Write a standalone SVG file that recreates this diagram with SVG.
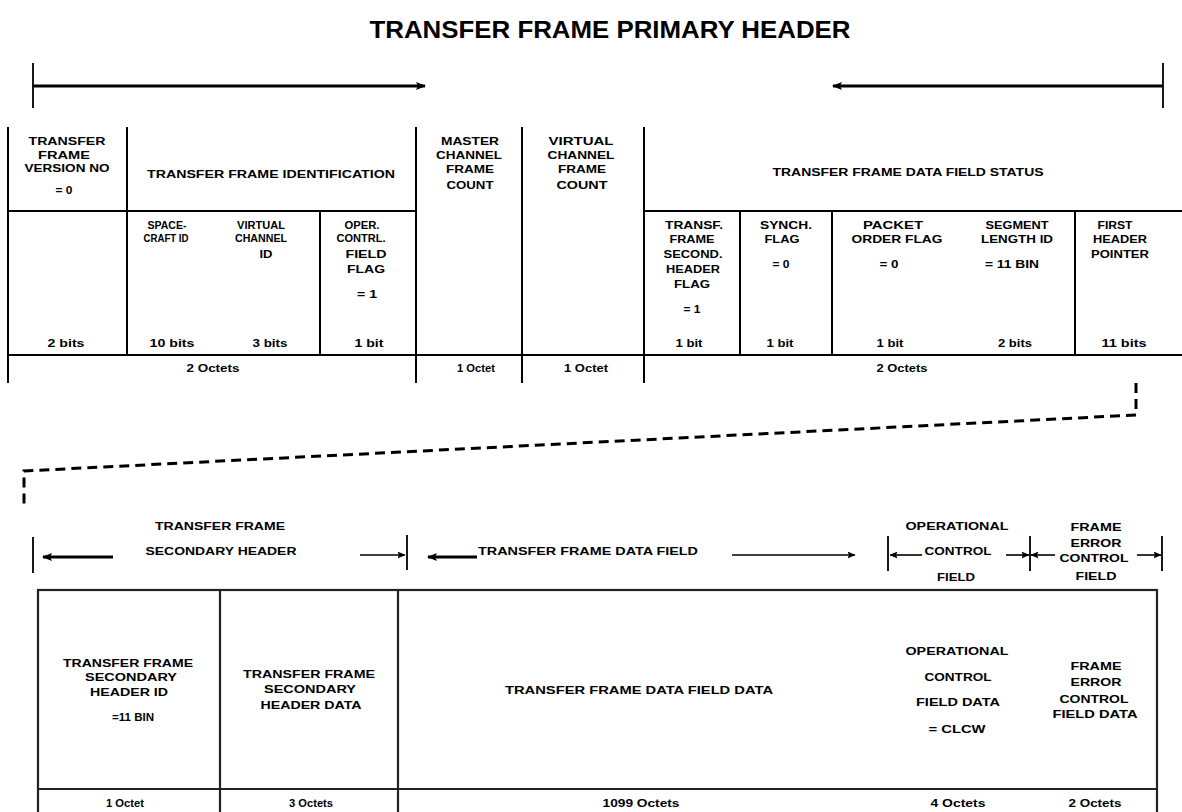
<svg xmlns="http://www.w3.org/2000/svg" width="1182" height="812" viewBox="0 0 1182 812">
  <style>
    .bg { fill: #ffffff; }
    .title { font-family: "Liberation Sans", Arial, sans-serif; font-weight: bold; font-size: 23px; fill: #000; text-anchor: middle; }
    .t { font-family: "Liberation Sans", Arial, sans-serif; font-weight: bold; font-size: 10.5px; fill: #000; text-anchor: middle; }
    .grid { stroke: #000; stroke-width: 2; fill: none; }
    .box { stroke: #222; stroke-width: 2.2; fill: none; }
    .span { stroke: #000; stroke-width: 3; fill: none; }
    .thin { stroke: #000; stroke-width: 1.6; fill: none; }
    .tick { stroke: #000; stroke-width: 1.8; fill: none; }
    .dash { stroke: #000; stroke-width: 3; fill: none; stroke-dasharray: 10 6; }
  </style>
  <defs>
    <marker id="head" markerWidth="10" markerHeight="8" refX="9" refY="4" orient="auto-start-reverse" markerUnits="userSpaceOnUse">
      <path d="M0,0 L10,4 L0,8 L2,4 Z" fill="#000"/>
    </marker>
    <marker id="headS" markerWidth="8" markerHeight="7" refX="7.5" refY="3.5" orient="auto-start-reverse" markerUnits="userSpaceOnUse">
      <path d="M0,0 L8,3.5 L0,7 L1.5,3.5 Z" fill="#000"/>
    </marker>
  </defs>

  <rect class="bg" x="0" y="0" width="1182" height="812"/>

  <text class="title" x="610" y="38" textLength="481" lengthAdjust="spacingAndGlyphs">TRANSFER FRAME PRIMARY HEADER</text>

  <!-- span arrows over the primary header -->
  <g id="primary-span">
    <line class="tick" x1="33" y1="63" x2="33" y2="108"/>
    <line class="span" x1="33" y1="86" x2="425" y2="86" marker-end="url(#head)"/>
    <line class="tick" x1="1163" y1="63" x2="1163" y2="108"/>
    <line class="span" x1="1163" y1="86" x2="833" y2="86" marker-end="url(#head)"/>
  </g>

  <!-- primary header grid -->
  <g id="primary-grid">
    <line class="grid" x1="8" y1="127" x2="8" y2="383"/>
    <line class="grid" x1="127" y1="127" x2="127" y2="355"/>
    <line class="grid" x1="320" y1="211" x2="320" y2="355"/>
    <line class="grid" x1="416" y1="127" x2="416" y2="383"/>
    <line class="grid" x1="522" y1="127" x2="522" y2="383"/>
    <line class="grid" x1="644" y1="127" x2="644" y2="383"/>
    <line class="grid" x1="740" y1="211" x2="740" y2="355"/>
    <line class="grid" x1="832" y1="211" x2="832" y2="355"/>
    <line class="grid" x1="1075" y1="211" x2="1075" y2="355"/>
    <line class="grid" x1="8" y1="211" x2="416" y2="211"/>
    <line class="grid" x1="644" y1="211" x2="1182" y2="211"/>
    <line class="grid" x1="8" y1="355" x2="1182" y2="355"/>
  </g>

  <g id="version-no">
    <text class="t" x="67" y="145" textLength="77" lengthAdjust="spacingAndGlyphs">TRANSFER</text>
    <text class="t" x="64" y="159" textLength="52" lengthAdjust="spacingAndGlyphs">FRAME</text>
    <text class="t" x="67" y="172" textLength="85" lengthAdjust="spacingAndGlyphs">VERSION NO</text>
    <text class="t" x="64" y="194" textLength="17" lengthAdjust="spacingAndGlyphs">= 0</text>
    <text class="t" x="66" y="347" textLength="37" lengthAdjust="spacingAndGlyphs">2 bits</text>
  </g>

  <g id="frame-identification">
    <text class="t" x="271" y="178" textLength="248" lengthAdjust="spacingAndGlyphs">TRANSFER FRAME IDENTIFICATION</text>
    <text class="t" x="213" y="372" textLength="53" lengthAdjust="spacingAndGlyphs">2 Octets</text>
  </g>

  <g id="spacecraft-id">
    <text class="t" x="167" y="229" textLength="39" lengthAdjust="spacingAndGlyphs">SPACE-</text>
    <text class="t" x="166" y="242" textLength="45" lengthAdjust="spacingAndGlyphs">CRAFT ID</text>
    <text class="t" x="172" y="347" textLength="45" lengthAdjust="spacingAndGlyphs">10 bits</text>
  </g>

  <g id="virtual-channel-id">
    <text class="t" x="261" y="229" textLength="48" lengthAdjust="spacingAndGlyphs">VIRTUAL</text>
    <text class="t" x="261" y="242" textLength="52" lengthAdjust="spacingAndGlyphs">CHANNEL</text>
    <text class="t" x="266" y="258" textLength="13" lengthAdjust="spacingAndGlyphs">ID</text>
    <text class="t" x="270" y="347" textLength="35" lengthAdjust="spacingAndGlyphs">3 bits</text>
  </g>

  <g id="ocf-flag">
    <text class="t" x="362" y="229" textLength="35" lengthAdjust="spacingAndGlyphs">OPER.</text>
    <text class="t" x="361" y="242" textLength="49" lengthAdjust="spacingAndGlyphs">CONTRL.</text>
    <text class="t" x="366" y="258" textLength="41" lengthAdjust="spacingAndGlyphs">FIELD</text>
    <text class="t" x="366" y="273" textLength="38" lengthAdjust="spacingAndGlyphs">FLAG</text>
    <text class="t" x="367" y="298" textLength="20" lengthAdjust="spacingAndGlyphs">= 1</text>
    <text class="t" x="369" y="347" textLength="29" lengthAdjust="spacingAndGlyphs">1 bit</text>
  </g>

  <g id="mc-frame-count">
    <text class="t" x="470" y="145" textLength="58" lengthAdjust="spacingAndGlyphs">MASTER</text>
    <text class="t" x="469" y="159" textLength="66" lengthAdjust="spacingAndGlyphs">CHANNEL</text>
    <text class="t" x="470" y="173" textLength="48" lengthAdjust="spacingAndGlyphs">FRAME</text>
    <text class="t" x="470" y="189" textLength="47" lengthAdjust="spacingAndGlyphs">COUNT</text>
    <text class="t" x="476" y="372" textLength="38" lengthAdjust="spacingAndGlyphs">1 Octet</text>
  </g>

  <g id="vc-frame-count">
    <text class="t" x="581" y="145" textLength="65" lengthAdjust="spacingAndGlyphs">VIRTUAL</text>
    <text class="t" x="581" y="159" textLength="67" lengthAdjust="spacingAndGlyphs">CHANNEL</text>
    <text class="t" x="582" y="173" textLength="48" lengthAdjust="spacingAndGlyphs">FRAME</text>
    <text class="t" x="582" y="189" textLength="51" lengthAdjust="spacingAndGlyphs">COUNT</text>
    <text class="t" x="586" y="372" textLength="44" lengthAdjust="spacingAndGlyphs">1 Octet</text>
  </g>

  <g id="data-field-status">
    <text class="t" x="908" y="176" textLength="271" lengthAdjust="spacingAndGlyphs">TRANSFER FRAME DATA FIELD STATUS</text>
    <text class="t" x="902" y="372" textLength="51" lengthAdjust="spacingAndGlyphs">2 Octets</text>
  </g>

  <g id="sec-header-flag">
    <text class="t" x="694" y="229" textLength="58" lengthAdjust="spacingAndGlyphs">TRANSF.</text>
    <text class="t" x="692" y="243" textLength="45" lengthAdjust="spacingAndGlyphs">FRAME</text>
    <text class="t" x="693" y="258" textLength="59" lengthAdjust="spacingAndGlyphs">SECOND.</text>
    <text class="t" x="693" y="273" textLength="54" lengthAdjust="spacingAndGlyphs">HEADER</text>
    <text class="t" x="692" y="288" textLength="36" lengthAdjust="spacingAndGlyphs">FLAG</text>
    <text class="t" x="692" y="313" textLength="17" lengthAdjust="spacingAndGlyphs">= 1</text>
    <text class="t" x="689" y="347" textLength="27" lengthAdjust="spacingAndGlyphs">1 bit</text>
  </g>

  <g id="synch-flag">
    <text class="t" x="786" y="229" textLength="52" lengthAdjust="spacingAndGlyphs">SYNCH.</text>
    <text class="t" x="782" y="243" textLength="35" lengthAdjust="spacingAndGlyphs">FLAG</text>
    <text class="t" x="781" y="268" textLength="17" lengthAdjust="spacingAndGlyphs">= 0</text>
    <text class="t" x="780" y="347" textLength="27" lengthAdjust="spacingAndGlyphs">1 bit</text>
  </g>

  <g id="packet-order-flag">
    <text class="t" x="893" y="229" textLength="60" lengthAdjust="spacingAndGlyphs">PACKET</text>
    <text class="t" x="897" y="243" textLength="91" lengthAdjust="spacingAndGlyphs">ORDER FLAG</text>
    <text class="t" x="889" y="268" textLength="19" lengthAdjust="spacingAndGlyphs">= 0</text>
    <text class="t" x="890" y="347" textLength="27" lengthAdjust="spacingAndGlyphs">1 bit</text>
  </g>

  <g id="segment-length-id">
    <text class="t" x="1017" y="229" textLength="63" lengthAdjust="spacingAndGlyphs">SEGMENT</text>
    <text class="t" x="1017" y="243" textLength="72" lengthAdjust="spacingAndGlyphs">LENGTH ID</text>
    <text class="t" x="1012" y="268" textLength="54" lengthAdjust="spacingAndGlyphs">= 11 BIN</text>
    <text class="t" x="1015" y="347" textLength="34" lengthAdjust="spacingAndGlyphs">2 bits</text>
  </g>

  <g id="first-header-pointer">
    <text class="t" x="1115" y="229" textLength="35" lengthAdjust="spacingAndGlyphs">FIRST</text>
    <text class="t" x="1120" y="243" textLength="54" lengthAdjust="spacingAndGlyphs">HEADER</text>
    <text class="t" x="1120" y="258" textLength="58" lengthAdjust="spacingAndGlyphs">POINTER</text>
    <text class="t" x="1124" y="347" textLength="45" lengthAdjust="spacingAndGlyphs">11 bits</text>
  </g>

  <!-- dashed lead-in from the first header pointer down to the frame layout -->
  <g id="connectors">
    <polyline class="dash" points="1136,383 1136,415 24,471 24,508"/>
  </g>

  <!-- span arrows over the frame layout -->
  <g id="secondary-header-span">
    <text class="t" x="220" y="530" textLength="130" lengthAdjust="spacingAndGlyphs">TRANSFER FRAME</text>
    <text class="t" x="221" y="555" textLength="151" lengthAdjust="spacingAndGlyphs">SECONDARY HEADER</text>
    <line class="tick" x1="33" y1="537" x2="33" y2="573"/>
    <line class="span" x1="113" y1="557" x2="43" y2="557" marker-end="url(#head)"/>
    <line class="thin" x1="360" y1="555" x2="405" y2="555" marker-end="url(#headS)"/>
    <line class="tick" x1="407" y1="535" x2="407" y2="570"/>
  </g>

  <g id="data-field-span">
    <line class="span" x1="477" y1="557" x2="428" y2="557" marker-end="url(#head)"/>
    <text class="t" x="588" y="555" textLength="220" lengthAdjust="spacingAndGlyphs">TRANSFER FRAME DATA FIELD</text>
    <line class="thin" x1="732" y1="555" x2="855" y2="555" marker-end="url(#headS)"/>
  </g>

  <g id="ocf-span">
    <text class="t" x="957" y="530" textLength="103" lengthAdjust="spacingAndGlyphs">OPERATIONAL</text>
    <text class="t" x="958" y="555" textLength="67" lengthAdjust="spacingAndGlyphs">CONTROL</text>
    <text class="t" x="956" y="581" textLength="38" lengthAdjust="spacingAndGlyphs">FIELD</text>
    <line class="tick" x1="888" y1="536" x2="888" y2="571"/>
    <line class="thin" x1="922" y1="555" x2="890" y2="555" marker-end="url(#headS)"/>
    <line class="thin" x1="1006" y1="555" x2="1029" y2="555" marker-end="url(#headS)"/>
    <line class="tick" x1="1030" y1="536" x2="1030" y2="571"/>
  </g>

  <g id="fecf-span">
    <text class="t" x="1096" y="531" textLength="51" lengthAdjust="spacingAndGlyphs">FRAME</text>
    <text class="t" x="1096" y="547" textLength="51" lengthAdjust="spacingAndGlyphs">ERROR</text>
    <text class="t" x="1094" y="562" textLength="69" lengthAdjust="spacingAndGlyphs">CONTROL</text>
    <text class="t" x="1096" y="580" textLength="41" lengthAdjust="spacingAndGlyphs">FIELD</text>
    <line class="thin" x1="1055" y1="555" x2="1031" y2="555" marker-end="url(#headS)"/>
    <line class="thin" x1="1137" y1="555" x2="1161" y2="555" marker-end="url(#headS)"/>
    <line class="tick" x1="1162" y1="536" x2="1162" y2="571"/>
  </g>

  <!-- frame layout table -->
  <g id="frame-grid">
    <rect class="box" x="38" y="590" width="1119" height="240"/>
    <line class="box" x1="38" y1="789" x2="1157" y2="789"/>
    <line class="box" x1="220" y1="590" x2="220" y2="812"/>
    <line class="box" x1="398" y1="590" x2="398" y2="812"/>
  </g>

  <g id="sec-header-id">
    <text class="t" x="128" y="667" textLength="130" lengthAdjust="spacingAndGlyphs">TRANSFER FRAME</text>
    <text class="t" x="131" y="681" textLength="92" lengthAdjust="spacingAndGlyphs">SECONDARY</text>
    <text class="t" x="129" y="696" textLength="78" lengthAdjust="spacingAndGlyphs">HEADER ID</text>
    <text class="t" x="133" y="721" textLength="42" lengthAdjust="spacingAndGlyphs">=11 BIN</text>
    <text class="t" x="125" y="807" textLength="38" lengthAdjust="spacingAndGlyphs">1 Octet</text>
  </g>

  <g id="sec-header-data">
    <text class="t" x="309" y="678" textLength="132" lengthAdjust="spacingAndGlyphs">TRANSFER FRAME</text>
    <text class="t" x="310" y="693" textLength="92" lengthAdjust="spacingAndGlyphs">SECONDARY</text>
    <text class="t" x="311" y="709" textLength="101" lengthAdjust="spacingAndGlyphs">HEADER DATA</text>
    <text class="t" x="311" y="807" textLength="44" lengthAdjust="spacingAndGlyphs">3 Octets</text>
  </g>

  <g id="data-field-data">
    <text class="t" x="639" y="694" textLength="268" lengthAdjust="spacingAndGlyphs">TRANSFER FRAME DATA FIELD DATA</text>
    <text class="t" x="641" y="807" textLength="77" lengthAdjust="spacingAndGlyphs">1099 Octets</text>
  </g>

  <g id="ocf-data">
    <text class="t" x="957" y="655" textLength="103" lengthAdjust="spacingAndGlyphs">OPERATIONAL</text>
    <text class="t" x="958" y="681" textLength="67" lengthAdjust="spacingAndGlyphs">CONTROL</text>
    <text class="t" x="958" y="706" textLength="84" lengthAdjust="spacingAndGlyphs">FIELD DATA</text>
    <text class="t" x="957" y="733" textLength="57" lengthAdjust="spacingAndGlyphs">= CLCW</text>
    <text class="t" x="958" y="807" textLength="55" lengthAdjust="spacingAndGlyphs">4 Octets</text>
  </g>

  <g id="fecf-data">
    <text class="t" x="1096" y="670" textLength="51" lengthAdjust="spacingAndGlyphs">FRAME</text>
    <text class="t" x="1096" y="686" textLength="51" lengthAdjust="spacingAndGlyphs">ERROR</text>
    <text class="t" x="1094" y="703" textLength="69" lengthAdjust="spacingAndGlyphs">CONTROL</text>
    <text class="t" x="1095" y="718" textLength="85" lengthAdjust="spacingAndGlyphs">FIELD DATA</text>
    <text class="t" x="1095" y="807" textLength="53" lengthAdjust="spacingAndGlyphs">2 Octets</text>
  </g>
</svg>
